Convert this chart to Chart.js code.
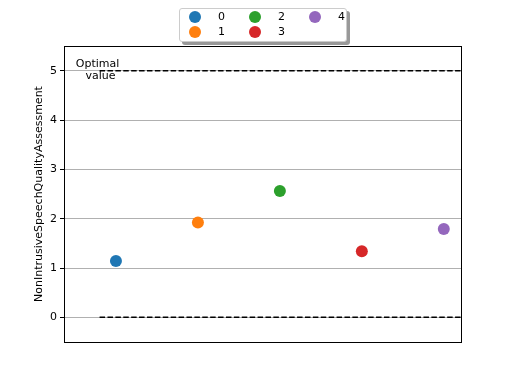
<!DOCTYPE html>
<html lang="en">
<head>
    <meta charset="UTF-8">
    <title>NonIntrusiveSpeechQualityAssessment</title>
    <script src="https://cdn.jsdelivr.net/npm/chart.js"></script>
    <style>
        body { margin: 0; background: #fff; }
        #wrap { position: relative; width: 512px; height: 384px; }
        #nisqaChart { position: absolute; left: 0; top: 0; }
        #legend {
            position: absolute; left: 179px; top: 8px; width: 166px; height: 32px;
            background: #fff; border: 1px solid #cccccc; border-radius: 3px;
            box-shadow: 3px 3px 0 rgba(0, 0, 0, 0.4);
            font: 11px "DejaVu Sans", sans-serif; color: #000;
        }
        .item { position: absolute; height: 14px; line-height: 14px; }
        .dot { position: absolute; width: 12px; height: 12px; border-radius: 50%; top: 1px; left: 0; }
        .lbl { position: absolute; left: 29px; top: 0; }
    </style>
</head>
<body>
<div id="wrap">
    <canvas id="nisqaChart" width="512" height="384"></canvas>
    <div id="legend"></div>
</div>
<script>
    const categories = ['0', '1', '2', '3', '4'];
    const xPositions = [0, 1, 2, 3, 4];
    const scores = [1.14, 1.92, 2.56, 1.34, 1.79];
    const colors = ['#1f77b4', '#ff7f0e', '#2ca02c', '#d62728', '#9467bd'];
    const yTicks = [0, 1, 2, 3, 4, 5];
    const refLevels = [0, 5];
    const refStart = -0.2;
    const refEnd = 4.21;

    const datasets = categories.map((c, i) => ({
        label: c,
        data: [{ x: xPositions[i], y: scores[i] }],
        backgroundColor: colors[i],
        borderColor: colors[i],
        pointRadius: 6,
        pointHoverRadius: 6,
        borderWidth: 0
    }));
    refLevels.forEach(v => {
        datasets.push({
            label: 'ref' + v,
            data: [{ x: refStart, y: v }, { x: refEnd, y: v }],
            showLine: true,
            borderColor: '#000',
            borderWidth: 1.5,
            borderDash: [5.5, 2.4],
            pointRadius: 0
        });
    });

    const frame = {
        id: 'frame',
        afterDraw(chart) {
            const { ctx, chartArea: a, scales } = chart;
            ctx.save();
            ctx.strokeStyle = '#000';
            ctx.lineWidth = 1;
            ctx.strokeRect(a.left + 0.5, a.top + 0.5, a.right - a.left, a.bottom - a.top);
            ctx.fillStyle = '#000';
            ctx.font = '11px "DejaVu Sans", sans-serif';
            ctx.textAlign = 'center';
            ctx.textBaseline = 'middle';
            const x = scales.x.getPixelForValue(refStart);
            const y = scales.y.getPixelForValue(refLevels[1]);
            ctx.fillText('Optimal', x - 2, y - 7);
            ctx.fillText('value', x + 1, y + 5);
            ctx.restore();
        }
    };

    new Chart(document.getElementById('nisqaChart'), {
        type: 'scatter',
        data: { datasets: datasets },
        options: {
            responsive: false,
            animation: false,
            layout: { padding: { left: 0, top: 46, right: 51, bottom: 0 } },
            plugins: { legend: { display: false }, tooltip: { enabled: false } },
            scales: {
                x: {
                    min: -0.634, max: 4.21,
                    ticks: { display: false },
                    grid: { display: false },
                    border: { display: true, color: '#000' },
                    afterFit(s) { s.height = 42; }
                },
                y: {
                    min: -0.5, max: 5.5,
                    afterBuildTicks(s) { s.ticks = yTicks.map(v => ({ value: v })); },
                    ticks: { color: '#000', padding: 3, font: { family: 'DejaVu Sans', size: 11 } },
                    grid: { color: '#b0b0b0', tickColor: '#000', tickLength: 4 },
                    border: { display: true, color: '#000' },
                    title: {
                        display: true,
                        text: 'NonIntrusiveSpeechQualityAssessment',
                        color: '#000',
                        font: { family: 'DejaVu Sans', size: 11 },
                        padding: { top: 33, bottom: 0 }
                    },
                    afterFit(s) { s.width = 64; }
                }
            }
        },
        plugins: [frame]
    });

    // legend, column-major in 3 columns like the original
    const legend = document.getElementById('legend');
    const colX = [9, 69, 129];
    const rowY = [1, 16];
    categories.forEach((c, i) => {
        const item = document.createElement('div');
        item.className = 'item';
        item.style.left = colX[Math.floor(i / 2)] + 'px';
        item.style.top = rowY[i % 2] + 'px';
        item.innerHTML = '<span class="dot" style="background:' + colors[i] + '"></span><span class="lbl">' + c + '</span>';
        legend.appendChild(item);
    });
</script>
</body>
</html>
